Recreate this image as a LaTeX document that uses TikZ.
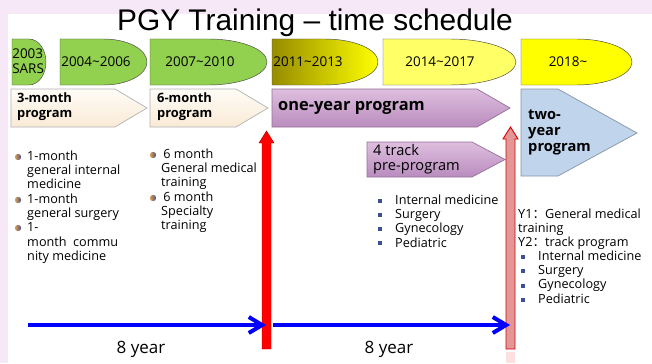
\documentclass[tikz,border=0pt]{standalone}
\usepackage{fontspec}
\setmainfont{Open Sans}
\newfontfamily\titlefont{Liberation Sans}
\newfontfamily\cjk{Noto Sans CJK SC}
\usetikzlibrary{arrows.meta}

\definecolor{slidepink}{RGB}{246,232,246}
\definecolor{leafgreen}{RGB}{146,208,80}
\definecolor{oliveyellow}{RGB}{150,140,0}
\definecolor{paleyellow}{RGB}{255,255,102}
\definecolor{brightyellow}{RGB}{255,255,0}
\definecolor{creamtop}{RGB}{255,252,247}
\definecolor{creambottom}{RGB}{250,234,214}
\definecolor{mauvetop}{RGB}{222,190,222}
\definecolor{mauvebottom}{RGB}{185,140,190}
\definecolor{skyblue}{RGB}{192,212,236}
\definecolor{barpink}{RGB}{226,150,150}
\definecolor{bulletblue}{RGB}{60,80,150}
\definecolor{bulletorange}{RGB}{225,160,70}

\begin{document}
\begin{tikzpicture}[x=0.3mm,y=-0.3mm]
		\tikzstyle{year-box}=[draw=black!70,line width=0.4pt]
		\tikzstyle{cream-arrow}=[draw=black!30,line width=0.6pt,top color=creamtop,bottom color=creambottom]
		\tikzstyle{mauve-arrow}=[draw=mauvebottom!80!black,line width=0.6pt,top color=mauvetop,bottom color=mauvebottom]
		\tikzstyle{year-label}=[font=\fontsize{11.5}{12.8}\selectfont,inner sep=0.5pt]
		\tikzstyle{body-list}=[anchor=north west,align=left,inner sep=0pt,font=\fontsize{10.8}{12.2}\selectfont]
		\tikzstyle{round-bullet}=[circle,inner sep=0pt,minimum size=1.9mm,left color=bulletorange,right color=bulletblue]
		\tikzstyle{square-bullet}=[rectangle,inner sep=0pt,minimum size=1.1mm,fill=bulletblue]
		\tikzstyle{span}=[-{Straight Barb[length=4mm,width=4.8mm]},blue,line width=1.2mm]
		% background
		\useasboundingbox (0,0) rectangle (652,363);
		\fill [slidepink] (0,0) rectangle (652,363);
		\fill [white] (8,14) rectangle (652,363);
		\node [font=\titlefont\fontsize{25.5}{28}\selectfont] at (315,23) (title) {PGY Training – time schedule};
		% year row
		\draw [year-box,fill=leafgreen] (12,39) -- (29,39) arc[start angle=-90,end angle=90,x radius=17,y radius=23] -- (12,85) -- cycle;
		\draw [year-box,fill=leafgreen] (60,39) -- (103.5,39) arc[start angle=-90,end angle=90,x radius=43.5,y radius=23] -- (60,85) -- cycle;
		\draw [year-box,fill=leafgreen] (150,39) -- (208.5,39) arc[start angle=-90,end angle=90,x radius=58.5,y radius=23] -- (150,85) -- cycle;
		\draw [year-box,left color=oliveyellow,right color=brightyellow] (272,39) -- (325,39) arc[start angle=-90,end angle=90,x radius=53,y radius=23] -- (272,85) -- cycle;
		\draw [year-box,fill=paleyellow] (383,39) -- (449.5,39) arc[start angle=-90,end angle=90,x radius=66.5,y radius=23] -- (383,85) -- cycle;
		\draw [year-box,fill=brightyellow] (521,39) -- (576.5,39) arc[start angle=-90,end angle=90,x radius=55.5,y radius=23] -- (521,85) -- cycle;
		\node [year-label,anchor=west,align=left] at (11.5,61.5) (y2003) {2003\\SARS};
		\node [year-label] at (96,62) (y2004) {2004\textasciitilde 2006};
		\node [year-label] at (200,62) (y2007) {2007\textasciitilde 2010};
		\node [year-label] at (308,62) (y2011) {2011\textasciitilde 2013};
		\node [year-label] at (440,62) (y2014) {2014\textasciitilde 2017};
		\node [year-label] at (568,62) (y2018) {2018\textasciitilde};
		% program row
		\draw [cream-arrow] (11,89) -- (115,89) -- (147,108) -- (115,127) -- (11,127) -- cycle;
		\draw [cream-arrow] (150,89) -- (236,89) -- (268,108) -- (236,127) -- (150,127) -- cycle;
		\draw [mauve-arrow] (272,89) -- (477,89) -- (510,108) -- (477,127) -- (272,127) -- cycle;
		\draw [draw=skyblue!70!black,line width=0.6pt,fill=skyblue] (521,89) -- (558,89) -- (637,133) -- (558,176) -- (521,176) -- cycle;
		\draw [mauve-arrow] (367,142) -- (472,142) -- (505,159.5) -- (472,177) -- (367,177) -- cycle;
		\node [anchor=north west,align=left,inner sep=0pt,font=\bfseries\fontsize{11}{13.6}\selectfont] at (17,92) (p3) {3-month\\program};
		\node [anchor=north west,align=left,inner sep=0pt,font=\bfseries\fontsize{11}{13.6}\selectfont] at (157,92) (p6) {6-month\\program};
		\node [anchor=west,inner sep=0pt,font=\bfseries\fontsize{14}{16}\selectfont] at (278,108) (p1y) {one-year program};
		\node [anchor=north west,align=left,inner sep=0pt,font=\bfseries\fontsize{12.5}{13.4}\selectfont] at (528,110) (p2y) {two-\\year\\program};
		\node [anchor=north west,align=left,inner sep=0pt,font=\fontsize{12.5}{12.9}\selectfont] at (373,144) (p4t) {4 track\\pre-program};
		% course lists
		\node [body-list] at (27,150.5) (l3) {1-month\\general internal\\medicine\\1-month\\general surgery\\1-\\month\ \ commu\\nity medicine};
		\node [round-bullet] at (18,157) (b31) {};
		\node [round-bullet] at (18,200) (b32) {};
		\node [round-bullet] at (18,228) (b33) {};
		\node [body-list] at (161,148.5) (l6) {\,6 month\\General medical\\training\\\,6 month\\Specialty\\training};
		\node [round-bullet] at (153,155) (b61) {};
		\node [round-bullet] at (153,198) (b62) {};
		\node [body-list] at (395,194.5) (l4t) {Internal medicine\\Surgery\\Gynecology\\Pediatric};
		\node [square-bullet] at (380,201) (s41) {};
		\node [square-bullet] at (380,215) (s42) {};
		\node [square-bullet] at (380,229) (s43) {};
		\node [square-bullet] at (380,243) (s44) {};
		\node [body-list] at (518,208.5) (l2y) {Y1{\cjk ：}General medical\\training\\Y2{\cjk ：}track program};
		\node [body-list] at (538,250.5) (l2t) {Internal medicine\\Surgery\\Gynecology\\Pediatric};
		\node [square-bullet] at (523,257) (s21) {};
		\node [square-bullet] at (523,271) (s22) {};
		\node [square-bullet] at (523,286) (s23) {};
		\node [square-bullet] at (523,300) (s24) {};
		% reform bars
		\draw [draw=red!70!black,line width=0.4pt,fill=red] (262,349) -- (262,143) -- (259,143) -- (266.5,131) -- (274,143) -- (271,143) -- (271,349) -- cycle;
		\draw [draw=red!85!black,line width=0.8pt,fill=barpink] (506,349) -- (506,139) -- (503,139) -- (510.5,127) -- (518,139) -- (515,139) -- (515,349) -- cycle;
		\fill [red!12] (506,352) rectangle (515,363);
		% time spans
		\coordinate (s1a) at (28,325);
		\coordinate (s1b) at (266,325);
		\coordinate (s2a) at (273,325);
		\coordinate (s2b) at (510,325);
		\draw [span] (s1a) -- (s1b);
		\draw [span] (s2a) -- (s2b);
		\node [font=\fontsize{14.5}{16}\selectfont] at (141,349) (t1) {8 year};
		\node [font=\fontsize{14.5}{16}\selectfont] at (389,349) (t2) {8 year};
	\end{tikzpicture}
\end{document}
